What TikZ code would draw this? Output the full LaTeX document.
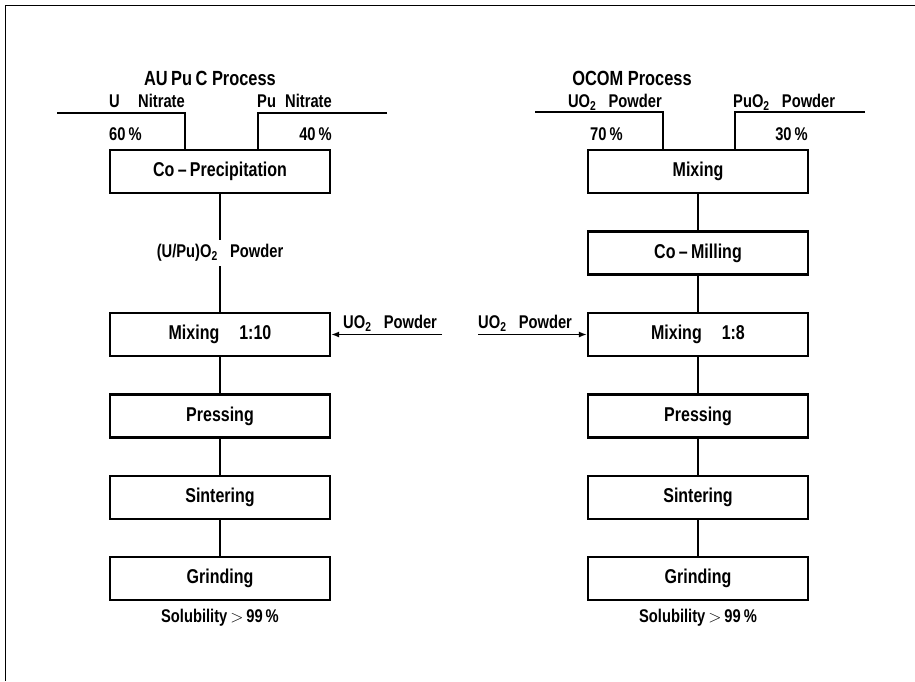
\documentclass[tikz,border=0pt]{standalone}
\usepackage{fontspec}
\setmainfont{Liberation Sans}[FakeStretch=0.8]
\usetikzlibrary{arrows.meta, positioning}
\newcommand{\stagefont}{\bfseries\fontsize{20}{22}\selectfont}
\newcommand{\lblfont}{\bfseries\fontsize{18.4}{20}\selectfont}
\newcommand{\ttlfont}{\bfseries\fontsize{20.5}{23}\selectfont}
\tikzset{
  >={Latex[length=8pt, width=6pt]},
  stage/.style={draw, line width=2.4pt, minimum width=220pt, minimum height=43pt, inner sep=0pt,
    font=\stagefont},
  flow/.style={line width=1.3pt},
  feed/.style={line width=1.3pt},
  lbl/.style={font=\lblfont, inner sep=0pt},
  ttl/.style={font=\ttlfont, inner sep=0pt},
}

\begin{document}
\begin{tikzpicture}[x=1pt, y=-1pt, node distance=36pt]
  \useasboundingbox (0,0) rectangle (915,681);
  \draw[line width=1pt] (5,681) -- (5,5) -- (915,5);

  % AUPuC route
  \node[ttl, anchor=base] (ta) at (210,85) {AU\,Pu\,C Process};
  \node[stage] (cop) at (220,171.5) {Co\,--\,Precipitation};
  \node[stage] (mixa) at (220,334.5) {Mixing\quad 1:10};
  \node[stage, below=of mixa] (presa) {Pressing};
  \node[stage, below=of presa] (sina) {Sintering};
  \node[stage, below=of sina] (grda) {Grinding};
  \node[lbl, below=8pt of grda] (sola) {Solubility$\,>\,$99\,\%};

  \coordinate (un) at (57,113);
  \coordinate (pun) at (387,113);
  \coordinate (uoa) at (442,334.5);
  \node[lbl, anchor=base east] (unl) at (185,107) {U\quad Nitrate};
  \node[lbl, anchor=base west] (punl) at (257,107) {Pu\; Nitrate};
  \node[lbl, anchor=base west] (una) at (109,140) {60\,\%};
  \node[lbl, anchor=base east] (puna) at (332,140) {40\,\%};
  \node[lbl, anchor=base west] (uoal) at (343,328) {UO\textsubscript{2}\;\, Powder};

  \draw[feed] (un) -| ([xshift=-35pt]cop.north);
  \draw[feed] (pun) -| ([xshift=38pt]cop.north);
  \draw[flow] (cop) -- node[lbl, fill=white, inner sep=4pt] (upo) {(U/Pu)O\textsubscript{2}\;\, Powder} (mixa);
  \draw[flow, ->] (uoa) -- (mixa.east);
  \draw[flow] (mixa) -- (presa);
  \draw[flow] (presa) -- (sina);
  \draw[flow] (sina) -- (grda);

  % OCOM route
  \node[ttl, anchor=base] (tb) at (632,85) {OCOM Process};
  \node[stage] (mixo) at (698,171.5) {Mixing};
  \node[stage, below=of mixo] (mill) {Co\,--\,Milling};
  \node[stage] (mixb) at (698,334.5) {Mixing\quad 1:8};
  \node[stage, below=of mixb] (presb) {Pressing};
  \node[stage, below=of presb] (sinb) {Sintering};
  \node[stage, below=of sinb] (grdb) {Grinding};
  \node[lbl, below=8pt of grdb] (solb) {Solubility$\,>\,$99\,\%};

  \coordinate (uop) at (535,112);
  \coordinate (puop) at (865,112);
  \coordinate (uob) at (478,334.5);
  \node[lbl, anchor=base east] (uopl) at (662,107) {UO\textsubscript{2}\;\, Powder};
  \node[lbl, anchor=base west] (puopl) at (733,107) {PuO\textsubscript{2}\;\, Powder};
  \node[lbl, anchor=base west] (uopa) at (590,140) {70\,\%};
  \node[lbl, anchor=base east] (puopa) at (808,140) {30\,\%};
  \node[lbl, anchor=base west] (uobl) at (478,328) {UO\textsubscript{2}\;\, Powder};

  \draw[feed] (uop) -| ([xshift=-35pt]mixo.north);
  \draw[feed] (puop) -| ([xshift=37pt]mixo.north);
  \draw[flow] (mixo) -- (mill);
  \draw[flow] (mill) -- (mixb);
  \draw[flow, ->] (uob) -- (mixb.west);
  \draw[flow] (mixb) -- (presb);
  \draw[flow] (presb) -- (sinb);
  \draw[flow] (sinb) -- (grdb);
\end{tikzpicture}
\end{document}
